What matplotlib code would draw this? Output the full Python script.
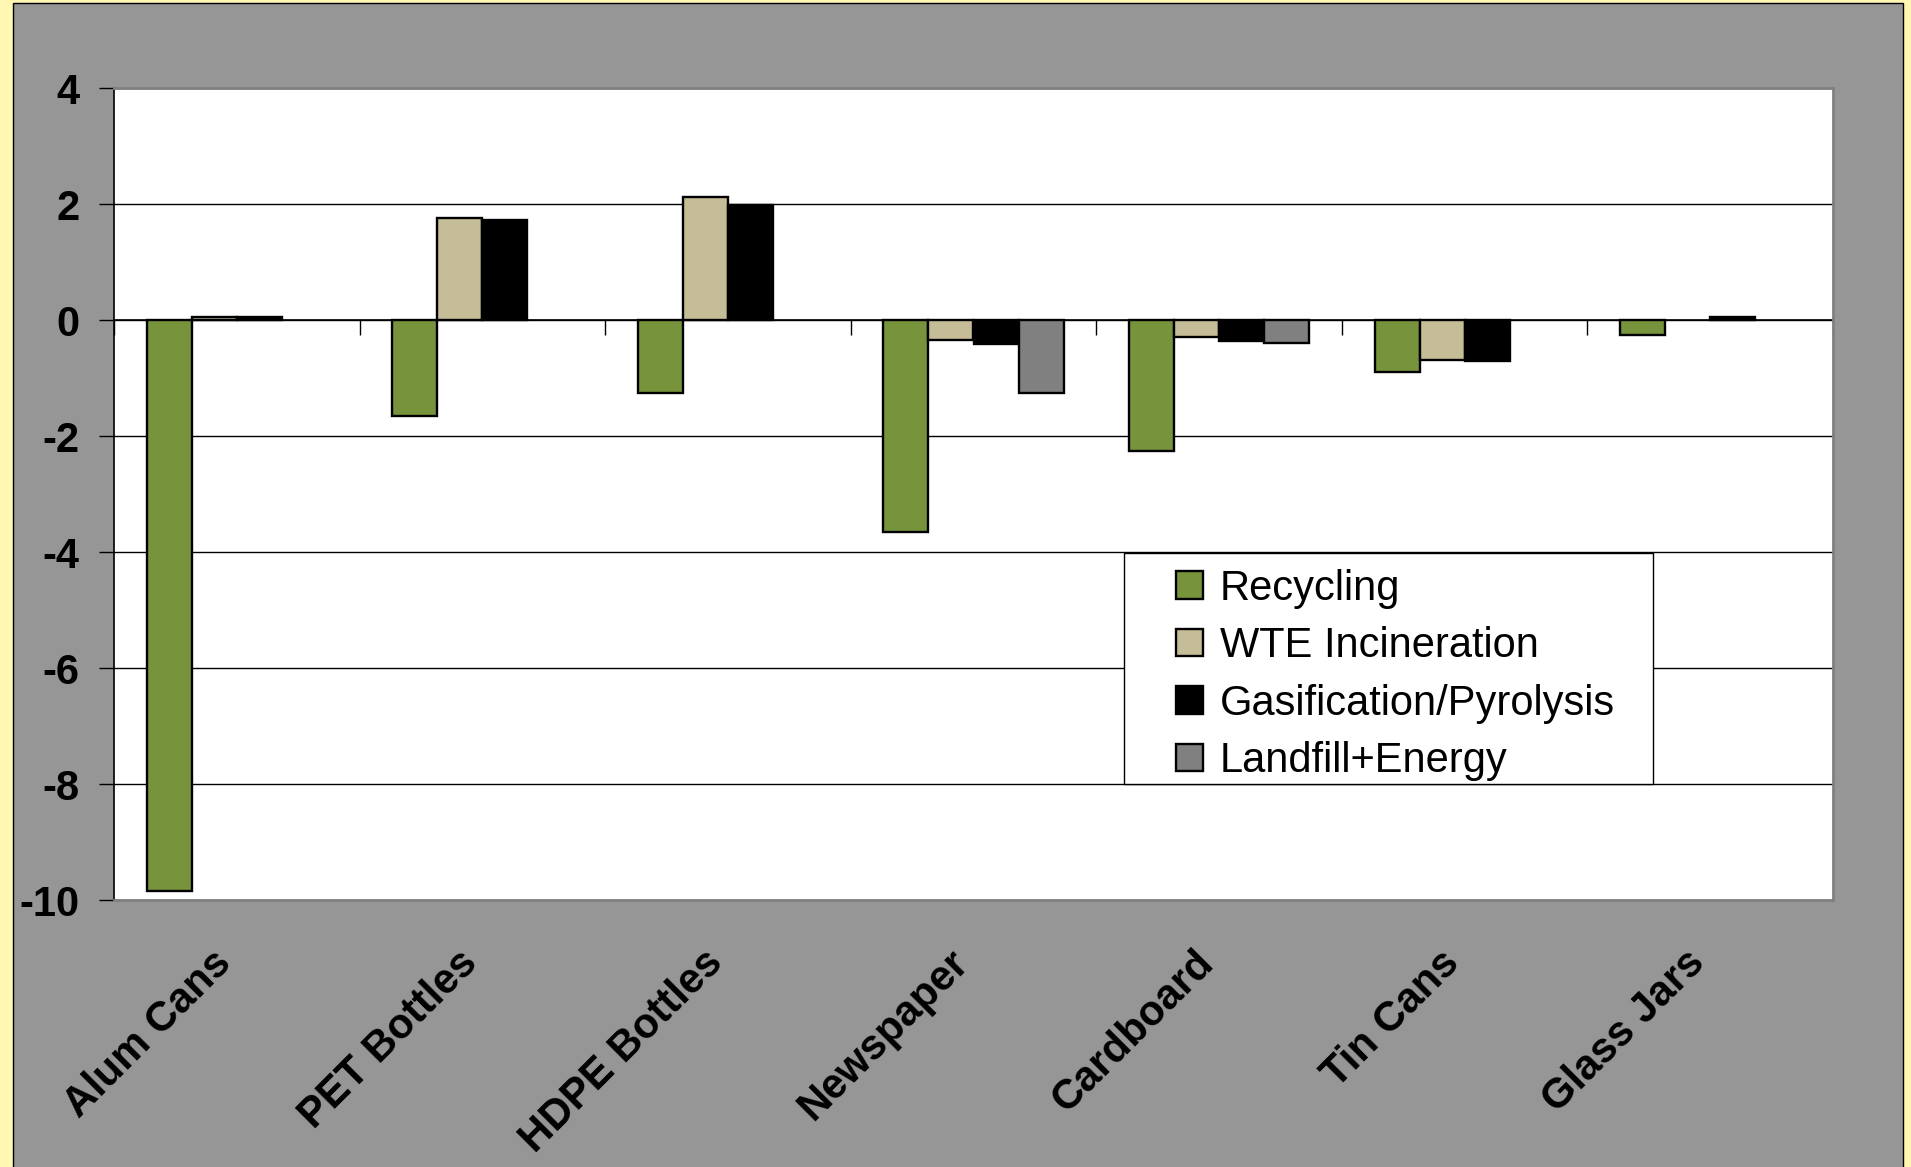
import numpy as np
import matplotlib.pyplot as plt
import matplotlib.transforms as mtransforms
from matplotlib.patches import Rectangle

plt.rcParams['font.family'] = ['Liberation Sans', 'DejaVu Sans']

categories = ['Alum Cans', 'PET Bottles', 'HDPE Bottles', 'Newspaper',
              'Cardboard', 'Tin Cans', 'Glass Jars']
series_names = ['Recycling', 'WTE Incineration', 'Gasification/Pyrolysis',
                'Landfill+Energy']
recycling = [-9.85, -1.65, -1.26, -3.66, -2.26, -0.90, -0.25]
wte = [0.06, 1.76, 2.12, -0.35, -0.29, -0.69, np.nan]
gasification = [0.06, 1.72, 1.98, -0.41, -0.36, -0.71, 0.06]
landfill = [np.nan, np.nan, np.nan, -1.26, -0.40, np.nan, np.nan]
colors = ['#77933C', '#C4BD97', '#000000', '#808080']
y_ticks = [-10, -8, -6, -4, -2, 0, 2, 4]

fig = plt.figure(figsize=(19.11, 11.67), dpi=100, facecolor='#FFF7B2')
fig.add_artist(Rectangle((13 / 1911, -0.01), (1903 - 13) / 1911, 1 - 3 / 1167 + 0.01,
                         transform=fig.transFigure, facecolor='#969696',
                         edgecolor='black', lw=1, zorder=0))

ax = fig.add_axes([114 / 1911, 1 - 900 / 1167, (1833 - 114) / 1911, (900 - 88) / 1167])
ax.set_facecolor('white')

x = np.arange(len(categories))
w = 0.1834
for k, (vals, name) in enumerate(zip([recycling, wte, gasification, landfill], series_names)):
    vals = np.array(vals, dtype=float)
    ax.bar(x + (k - 1.5) * w, vals, width=w, color=colors[k], edgecolor='black',
           linewidth=1.7, label=name, zorder=3)

ax.set_xlim(-0.5, len(categories) - 0.5)
ax.set_ylim(-10, 4)
ax.set_yticks(y_ticks)
ax.set_yticklabels([str(t) for t in y_ticks], fontsize=30, fontweight='bold')
ax.tick_params(axis='y', length=11, width=1, pad=14, direction='out', color='black')
ax.yaxis.grid(True, color='black', lw=1)
ax.set_axisbelow(True)
ax.axhline(0, color='black', lw=1.2, zorder=2)

# category boundary ticks on the zero line
ax.vlines(np.arange(len(categories) + 1) - 0.5, -0.26, 0, color='black', lw=1, zorder=2)

ax.set_xticks(x)
ax.set_xticklabels(categories, rotation=45, ha='right', va='center',
                   rotation_mode='anchor', fontsize=30, fontweight='bold')
ax.tick_params(axis='x', length=0, pad=41)
shift = mtransforms.ScaledTranslation(-8 / 72, 0, fig.dpi_scale_trans)
for lbl in ax.get_xticklabels():
    lbl.set_transform(lbl.get_transform() + shift)

for side in ['top', 'right', 'bottom']:
    ax.spines[side].set_color('#808080')
    ax.spines[side].set_linewidth(2)
ax.spines['left'].set_color('black')
ax.spines['left'].set_linewidth(1.2)

ax.add_patch(Rectangle((0.5876, 0.1429), 0.3077, 0.2844, transform=ax.transAxes,
                       facecolor='white', edgecolor='black', lw=1, zorder=4))
leg = ax.legend(loc='upper left', bbox_to_anchor=(0.618, 0.408), frameon=False,
                fontsize=30, borderpad=0, borderaxespad=0, labelspacing=0.42,
                handlelength=0.65, handleheight=0.65, handletextpad=0.4)
leg.set_zorder(5)

plt.savefig('out.png', dpi=100, facecolor=fig.get_facecolor())
plt.close()
